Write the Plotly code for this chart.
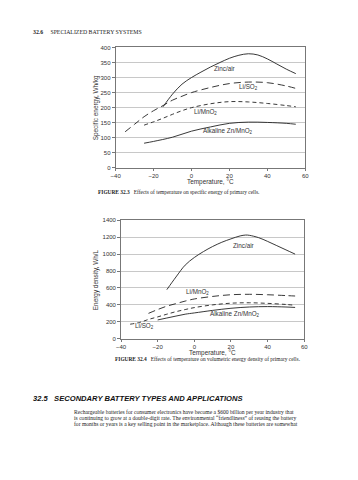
import plotly.graph_objects as go

# ---------------- data: Figure 32.3 (specific energy, Wh/kg) ----------------
t_zinc1 = [-15, -10, -5, 0, 5, 10, 15, 20, 25, 30, 35, 40, 45, 50, 55]
v_zinc1 = [203, 245, 278, 300, 318, 335, 350, 364, 374, 379, 375, 362, 345, 328, 313]

t_liso2_1 = [-35, -30, -25, -20, -15, -10, -5, 0, 10, 20, 30, 40, 50, 55]
v_liso2_1 = [120, 145, 170, 190, 207, 225, 238, 250, 267, 280, 285, 283, 272, 264]

t_limno2_1 = [-25, -20, -15, -10, -5, 0, 10, 20, 30, 40, 50, 55]
v_limno2_1 = [142, 153, 165, 178, 190, 200, 213, 220, 219, 214, 207, 203]

t_alk1 = [-25, -20, -10, 0, 10, 20, 30, 40, 50, 55]
v_alk1 = [82, 88, 102, 122, 136, 148, 152, 151, 148, 145]

# ---------------- data: Figure 32.4 (energy density, Wh/L) ----------------
t_zinc2 = [-15, -10, -5, 0, 5, 10, 15, 20, 25, 28, 30, 35, 40, 45, 50, 55]
v_zinc2 = [580, 730, 870, 960, 1030, 1090, 1140, 1180, 1215, 1225, 1222, 1195, 1150, 1100, 1050, 1000]

t_limno2_2 = [-25, -20, -15, -10, -5, 0, 10, 20, 30, 40, 50, 55]
v_limno2_2 = [300, 345, 385, 415, 445, 470, 500, 520, 525, 520, 510, 505]

t_liso2_2 = [-35, -30, -25, -20, -15, -10, -5, 0, 10, 20, 30, 40, 50, 55]
v_liso2_2 = [172, 192, 228, 258, 290, 320, 345, 368, 400, 420, 425, 418, 405, 395]

t_alk2 = [-20, -15, -10, -5, 0, 10, 20, 30, 40, 50, 55]
v_alk2 = [222, 245, 268, 290, 305, 335, 360, 375, 380, 375, 370]

x_ticks = [-40, -20, 0, 20, 40, 60]
y1_ticks = [0, 50, 100, 150, 200, 250, 300, 350, 400]
y2_ticks = [0, 200, 400, 600, 800, 1000, 1200, 1400]

LINE = "#222222"
GRID = "#c8c8c8"
AXC = "#777777"
SANS = "Liberation Sans, Arial, sans-serif"
SERIF = "Liberation Serif, Times New Roman, serif"

fig = go.Figure()

def add(t, v, dash, xa, ya):
    fig.add_trace(go.Scatter(x=t, y=v, mode="lines", xaxis=xa, yaxis=ya,
                             line=dict(color=LINE, width=0.9, dash=dash,
                                       shape="spline", smoothing=1.0),
                             showlegend=False, hoverinfo="skip"))

LONG = "7px,4px"
SHORT = "4px,3px"

add(t_zinc1, v_zinc1, "solid", "x", "y")
add(t_liso2_1, v_liso2_1, LONG, "x", "y")
add(t_limno2_1, v_limno2_1, SHORT, "x", "y")
add(t_alk1, v_alk1, "solid", "x", "y")

add(t_zinc2, v_zinc2, "solid", "x2", "y2")
add(t_limno2_2, v_limno2_2, LONG, "x2", "y2")
add(t_liso2_2, v_liso2_2, SHORT, "x2", "y2")
add(t_alk2, v_alk2, "solid", "x2", "y2")

W, H = 358, 480

def xaxis(dom):
    return dict(domain=dom, range=[-40, 60], tickvals=x_ticks,
                showgrid=False, zeroline=False, showline=True, linecolor=AXC,
                linewidth=0.8, mirror=True, ticks="outside", ticklen=2,
                tickcolor=AXC, tickwidth=0.8,
                tickfont=dict(family=SANS, size=6, color="#333"))

def yaxis(dom, rng, ticks):
    return dict(domain=dom, range=rng, tickvals=ticks,
                showgrid=True, gridcolor=GRID, gridwidth=0.8, zeroline=False,
                showline=True, linecolor=AXC, linewidth=0.8, mirror=True,
                ticks="outside", ticklen=3, tickcolor=AXC, tickwidth=0.8,
                tickfont=dict(family=SANS, size=6, color="#333"))

fig.update_layout(
    width=W, height=H, margin=dict(l=0, r=0, t=0, b=0),
    paper_bgcolor="white", plot_bgcolor="white",
    xaxis=dict(xaxis([113.5 / W, 308 / W]), anchor="y"),
    yaxis=dict(yaxis([1 - 167 / H, 1 - 45 / H], [0, 400], y1_ticks), anchor="x"),
    xaxis2=dict(xaxis([119 / W, 307 / W]), anchor="y2"),
    yaxis2=dict(yaxis([1 - 340 / H, 1 - 220 / H], [0, 1400], y2_ticks), anchor="x2"),
)

ann = []
def lab(text, x, y, xr, yr, size=6.3):
    ann.append(dict(text=text, x=x, y=y, xref=xr, yref=yr, showarrow=False,
                    font=dict(family=SANS, size=size, color="#333")))

# curve labels
lab("Zinc/air", 17.5, 329, "x", "y")
lab("Li/SO<sub>2</sub>", 30, 267, "x", "y")
lab("Li/MnO<sub>2</sub>", 7.3, 187, "x", "y")
lab("Alkaline Zn/MnO<sub>2</sub>", 19.5, 124, "x", "y")

lab("Zinc/air", 27, 1100, "x2", "y2")
lab("Li/MnO<sub>2</sub>", 1.5, 556, "x2", "y2")
lab("Alkaline Zn/MnO<sub>2</sub>", 22, 292, "x2", "y2")
lab("Li/SO<sub>2</sub>", -27, 148, "x2", "y2")

def ptxt(text, x, y, size, family=SERIF, color="#222", xanchor="left", textangle=0):
    ann.append(dict(text=text, x=x / W, y=1 - y / H, xref="paper", yref="paper",
                    showarrow=False, xanchor=xanchor, yanchor="middle",
                    textangle=textangle,
                    font=dict(family=family, size=size, color=color)))

# axis titles
ptxt("Temperature, °C", 211, 181, 6.4, SANS, "#333", "center")
ptxt("Temperature, °C", 213, 354, 6.4, SANS, "#333", "center")
ptxt("Specific energy, Wh/kg", 93, 106, 6.4, SANS, "#333", "center", -90)
ptxt("Energy density, Wh/L", 93, 280, 6.4, SANS, "#333", "center", -90)

# page text
ptxt("<b>32.6</b>&nbsp;&nbsp;&nbsp;&nbsp;&nbsp;SPECIALIZED BATTERY SYSTEMS", 27, 29, 5.8)
ptxt("<b>FIGURE 32.3</b>&nbsp;&nbsp;&nbsp;Effects of temperature on specific energy of primary cells.",
     93, 191.5, 5.4)
ptxt("<b>FIGURE 32.4</b>&nbsp;&nbsp;&nbsp;Effects of temperature on volumetric energy density of primary cells.",
     111, 360, 5.4)
ptxt("<b><i>32.5&nbsp;&nbsp;&nbsp;SECONDARY BATTERY TYPES AND APPLICATIONS</i></b>", 27, 401, 7.6,
     SANS, "#111")
para = [
    "Rechargeable batteries for consumer electronics have become a $600 billion per year industry that",
    "is continuing to grow at a double-digit rate. The environmental \u201cfriendliness\u201d of reusing the battery",
    "for months or years is a key selling point in the marketplace. Although these batteries are somewhat",
]
for i, line in enumerate(para):
    ptxt(line, 69, 414.5 + i * 6, 5.6)

fig.update_layout(annotations=ann)
fig.write_html("out.html", config={"displayModeBar": False},
               post_script="document.body.style.margin='0';document.body.style.padding='0';")
